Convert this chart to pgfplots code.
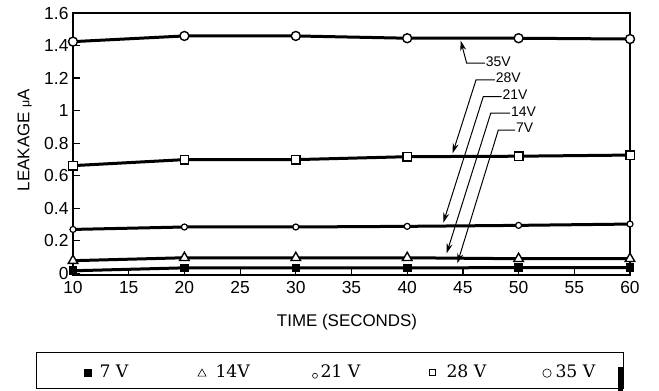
\documentclass[border=0pt]{standalone}
\usepackage{fontspec}
\setsansfont{Liberation Sans}
\newfontfamily\legendfont{DejaVu Serif}
\usepackage{pgfplots}
\pgfplotsset{compat=1.18}
\usetikzlibrary{arrows.meta}
\begin{document}
\begin{tikzpicture}
\useasboundingbox (0,0) rectangle (659bp,391bp);
\begin{axis}[
  at={(73bp,116bp)}, anchor=south west,
  scale only axis, width=557bp, height=262bp,
  xmin=10, xmax=60, ymin=-0.01, ymax=1.6,
  xtick={10,15,20,25,30,35,40,45,50,55,60},
  ytick={0,0.2,0.4,0.6,0.8,1,1.2,1.4,1.6},
  axis line style={line width=2bp},
  tick style={line width=1.2bp, black},
  tick align=inside, tick pos=left,
  major tick length=7bp,
  /pgf/number format/assume math mode=true,
  ticklabel style={font=\sffamily\fontsize{17.5}{18}\selectfont},
  xticklabel style={yshift=-3bp},
  yticklabel style={xshift=-1bp},
  xlabel={TIME (SECONDS)},
  ylabel={LEAKAGE {\fontsize{12.5}{12}\selectfont μ}A},
  xlabel style={font=\sffamily\fontsize{17}{17}\selectfont, at={(axis description cs:0.492,-0.179)}, anchor=center},
  ylabel style={font=\sffamily\fontsize{17}{17}\selectfont, at={(axis description cs:-0.087,0.515)}, anchor=center},
  legend columns=5,
  legend style={draw=black, line width=1bp, fill=white,
    at={(axis description cs:-0.0664,-0.4351)}, anchor=south west,
    inner xsep=0bp, inner ysep=0bp,
    /tikz/every even column/.append style={column sep=0bp},
    /tikz/every odd column/.append style={column sep=0bp},
    nodes={inner xsep=0bp, inner ysep=0bp, text height=25bp, text depth=10.5bp, font=\legendfont\fontsize{17.3}{18}\selectfont}},
]
% 7 V
\addplot[line width=3bp, mark=square*, mark size=3.8bp, mark options={solid, fill=black, line width=1bp}, forget plot]
 coordinates {(10,0.016) (20,0.034) (30,0.034) (40,0.034) (50,0.035) (60,0.035)};
% 14 V
\addplot[line width=3bp, mark=triangle*, mark size=5.5bp, mark options={solid, fill=white, line width=1.4bp}, forget plot]
 coordinates {(10,0.078) (20,0.096) (30,0.096) (40,0.096) (50,0.090) (60,0.090)};
% 21 V
\addplot[line width=3bp, mark=*, mark size=3bp, mark options={solid, fill=white, line width=1.2bp}, forget plot]
 coordinates {(10,0.270) (20,0.285) (30,0.285) (40,0.289) (50,0.295) (60,0.303)};
% 28 V
\addplot[line width=3bp, mark=square*, mark size=4.2bp, mark options={solid, fill=white, line width=1.4bp}, forget plot]
 coordinates {(10,0.662) (20,0.699) (30,0.699) (40,0.717) (50,0.720) (60,0.727)};
% 35 V
\addplot[line width=3bp, mark=*, mark size=4.5bp, mark options={solid, fill=white, line width=1.4bp}, forget plot]
 coordinates {(10,1.424) (20,1.459) (30,1.459) (40,1.445) (50,1.445) (60,1.440)};

\addlegendimage{legend image code/.code={\path (-51bp,0) (4bp,0); \draw[line width=0.6bp, fill=black] plot[mark=square*, mark size=3.6bp] coordinates {(0,-2bp)};}}
\addlegendentry{\makebox[59bp][l]{\hspace{7bp}7 V}}
\addlegendimage{legend image code/.code={\path (-50bp,0) (4bp,0); \draw[line width=0.6bp, fill=white] plot[mark=triangle*, mark size=4.7bp] coordinates {(0,-3bp)};}}
\addlegendentry{\makebox[58bp][l]{\hspace{9bp}14V}}
\addlegendimage{legend image code/.code={\path (-50bp,0) (4bp,0); \draw[line width=0.6bp, fill=white] plot[mark=*, mark size=2.5bp] coordinates {(0,-5bp)};}}
\addlegendentry{\makebox[59bp][l]{\hspace{1bp}21 V}}
\addlegendimage{legend image code/.code={\path (-53bp,0) (4bp,0); \draw[line width=0.6bp, fill=white] plot[mark=square*, mark size=3bp] coordinates {(0,-2bp)};}}
\addlegendentry{\makebox[58bp][l]{\hspace{10bp}28 V}}
\addlegendimage{legend image code/.code={\path (-52bp,0) (4bp,0); \draw[line width=0.6bp, fill=white] plot[mark=*, mark size=4.2bp] coordinates {(0,-2.4bp)};}}
\addlegendentry{\makebox[72bp][l]{\hspace{4bp}35 V}}

% annotations
\begin{scope}[line width=1bp, every node/.style={anchor=west, inner xsep=0.5bp, inner ysep=0bp, yshift=2bp, font=\sffamily\fontsize{14}{14}\selectfont}]
\draw[-{Stealth[length=10bp,width=6bp]}] (axis cs:46.98,1.2915) -- (axis cs:45.34,1.2915) -- (axis cs:44.80,1.430);
\node at (axis cs:46.98,1.2915) {35V};
\draw[-{Stealth[length=10bp,width=6bp]}] (axis cs:47.88,1.189) -- (axis cs:46.18,1.189) -- (axis cs:44.08,0.738);
\node at (axis cs:47.88,1.189) {28V};
\draw[-{Stealth[length=10bp,width=6bp]}] (axis cs:48.48,1.086) -- (axis cs:46.83,1.086) -- (axis cs:43.24,0.311);
\node at (axis cs:48.48,1.086) {21V};
\draw[-{Stealth[length=10bp,width=6bp]}] (axis cs:49.23,0.984) -- (axis cs:47.50,0.984) -- (axis cs:43.54,0.123);
\node at (axis cs:49.23,0.984) {14V};
\draw[-{Stealth[length=10bp,width=6bp]}] (axis cs:49.68,0.881) -- (axis cs:48.18,0.881) -- (axis cs:44.50,0.0615);
\node at (axis cs:49.68,0.881) {7V};
\end{scope}
\end{axis}
\fill[black] (618bp,0bp) rectangle (623bp,24bp);
\end{tikzpicture}
\end{document}
